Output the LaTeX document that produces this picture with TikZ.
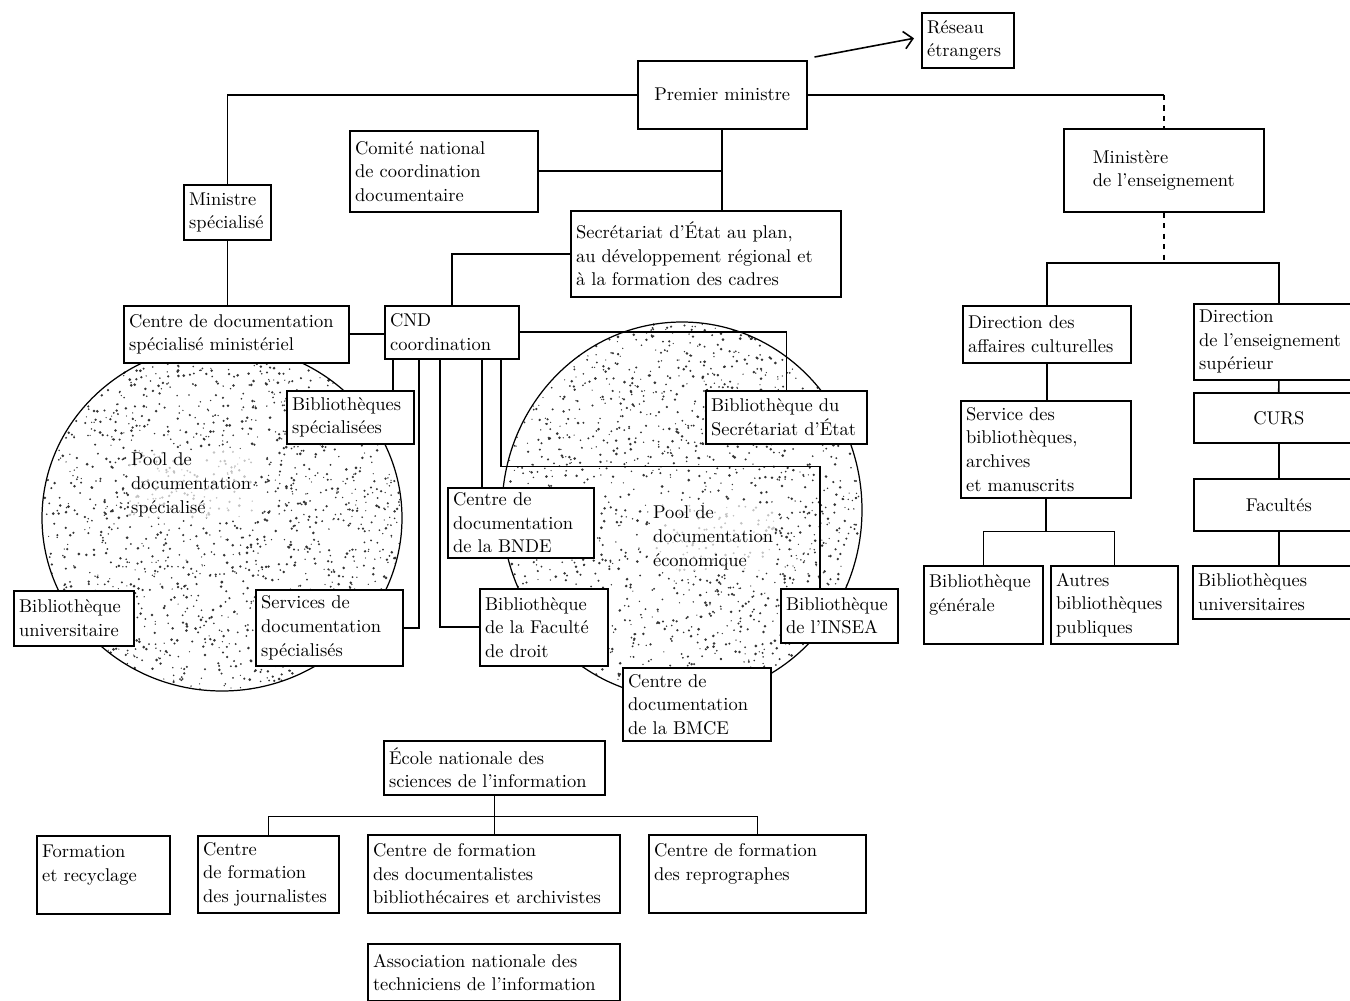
\documentclass[tikz,border=0pt]{standalone}
\usepackage{tikz}
\usetikzlibrary{arrows.meta,positioning,calc}

\begin{document}
\begin{tikzpicture}[x=0.02cm, y=-0.02cm,
    box/.style={draw, fill=white, line width=0.9pt, align=left, anchor=north west, inner xsep=3pt, inner ysep=2pt, font={\fontsize{10.5pt}{13.4pt}\selectfont}},
    cbox/.style={box, align=center},
    pool/.style={align=left, anchor=north west, inner sep=1pt, fill=white, fill opacity=0.7, text opacity=1, font={\fontsize{10.5pt}{13.4pt}\selectfont}},
    lnk/.style={line width=0.9pt},
    dlnk/.style={line width=0.9pt, dashed},
    arr/.style={-{Straight Barb[length=5pt]}, line width=0.9pt},
    blob/.style={line width=0.7pt}
]
\useasboundingbox (0,0) rectangle (1350,1001);
\clip (0,0) rectangle (1350,1001);

% the two pools, stippled
\pgfmathsetseed{42}
\foreach \cx/\cy/\rx/\ry in {222/518/180/173, 682/510/180/188}{
  \foreach \i in {1,...,1500}{
    \pgfmathsetmacro{\ang}{360*rnd}
    \pgfmathsetmacro{\rad}{sqrt(rnd)}
    \pgfmathsetmacro{\dot}{0.35+0.5*rnd}
    \fill[black!80] ({\cx+\rx*\rad*cos(\ang)}, {\cy+\ry*\rad*sin(\ang)}) circle (\dot pt);
  }
  \draw[blob] (\cx,\cy) ellipse ({\rx} and {\ry});
}
\node[pool] (PS) at (129,451) {Pool de\\documentation\\spécialisé};
\node[pool] (PE) at (651,504) {Pool de\\documentation\\économique};

% top
\node[box, text width=1.63cm, minimum height=1.10cm] (RE) at (921,12) {Réseau\\étrangers};
\node[cbox, minimum width=3.38cm, minimum height=1.36cm] (PM) at (637,60) {Premier ministre};
\node[box, text width=3.55cm, minimum height=1.62cm] (CNC) at (349,130) {Comité national\\de coordination\\documentaire};
\node[box, text width=1.53cm, minimum height=1.10cm] (MS) at (183,184) {Ministre\\spécialisé};
\node[box, text width=5.19cm, minimum height=1.72cm] (SE) at (570,210) {Secrétariat d'État au plan,\\au développement régional et\\à la formation des cadres};
\node[box, minimum width=4cm, minimum height=1.66cm] (ME) at (1063,128) {Ministère\\de l'enseignement};

% middle
\node[box, text width=4.29cm, minimum height=1.14cm] (CDS) at (123,305) {Centre de documentation\\spécialisé ministériel};
\node[box, text width=2.47cm, minimum height=1.06cm] (CND) at (384,305) {CND\\coordination};
\node[box, text width=2.33cm, minimum height=1.06cm] (BSP) at (286,390) {Bibliothèques\\spécialisées};
\node[box, text width=3.01cm, minimum height=1.06cm] (BSE) at (705,390) {Bibliothèque du\\Secrétariat d'État};
\node[box, text width=2.71cm, minimum height=1.40cm] (BNDE) at (447,487) {Centre de\\documentation\\de la BNDE};
\node[box, text width=2.19cm, minimum height=1.10cm] (BUN) at (13,590) {Bibliothèque\\universitaire};
\node[box, text width=2.73cm, minimum height=1.52cm] (SDS) at (255,589) {Services de\\documentation\\spécialisés};
\node[box, text width=2.35cm, minimum height=1.54cm] (BFD) at (479,588) {Bibliothèque\\de la Faculté\\de droit};
\node[box, text width=2.13cm, minimum height=1.08cm] (BINS) at (780,588) {Bibliothèque\\de l'INSEA};
\node[box, text width=2.75cm, minimum height=1.46cm] (BMCE) at (622,667) {Centre de\\documentation\\de la BMCE};

% right
\node[box, text width=3.15cm, minimum height=1.14cm] (DAC) at (962,305) {Direction des\\affaires culturelles};
\node[box, text width=3.19cm, minimum height=1.52cm] (DES) at (1193,303) {Direction\\de l'enseignement\\supérieur};
\node[box, text width=3.19cm, minimum height=1.94cm] (SBAM) at (960,400) {Service des\\bibliothèques,\\archives\\et manuscrits};
\node[cbox, minimum width=3.4cm, minimum height=1.00cm] (CURS) at (1193,392) {CURS};
\node[cbox, minimum width=3.4cm, minimum height=1.04cm] (FAC) at (1193,478) {Facultés};
\node[box, text width=2.17cm, minimum height=1.56cm] (BG) at (923,565) {Bibliothèque\\générale\\~};
\node[box, text width=2.33cm, minimum height=1.56cm] (ABP) at (1050,565) {Autres\\bibliothèques\\publiques};
\node[box, text width=3.19cm, minimum height=1.06cm] (BU) at (1192,565) {Bibliothèques\\universitaires};

% bottom
\node[box, text width=4.21cm, minimum height=1.08cm] (ENSI) at (383,740) {École nationale des\\sciences de l'information};
\node[box, text width=2.45cm, minimum height=1.56cm] (FR) at (36,835) {Formation\\et recyclage\\~};
\node[box, text width=2.61cm, minimum height=1.54cm] (CFJ) at (197,835) {Centre\\de formation\\des journalistes};
\node[box, text width=4.83cm, minimum height=1.56cm] (CFD) at (367,834) {Centre de formation\\des documentalistes\\bibliothécaires et archivistes};
\node[box, text width=4.13cm, minimum height=1.56cm] (CFR) at (648,834) {Centre de formation\\des reprographes\\~};
\node[box, text width=4.83cm, minimum height=1.14cm] (ANTI) at (367,943) {Association nationale des\\techniciens de l'information};

% links
\draw[lnk] (PM.west) -| (MS.north);
\draw[lnk] (PM.east) -- (PM.east -| ME.north);
\draw[dlnk] (PM.east -| ME.north) -- (ME.north);
\draw[arr] ($(PM.north east)+(7,-3)$) -- ($(RE.west)+(-7,-2)$);
\draw[lnk] (PM.south) -- (PM.south |- SE.north);
\draw[lnk] (CNC.east) -- (CNC.east -| PM.south);
\draw[lnk] (SE.west) -| (CND.north);
\draw[lnk] (MS.south) -- (MS.south |- CDS.north);
\draw[lnk] (CDS.east) -- (CDS.east -| CND.west);
\draw[lnk] (CND.east) -| (BSE.north);

\foreach \n/\dx in {a/9, b/35, c/56, d/98, e/117}
  \coordinate (cnd\n) at ($(CND.south west)+(\dx,0)$);
\draw[lnk] (cnda) -- (cnda |- BSP.north);
\draw[lnk] (cndb) |- (SDS.east);
\draw[lnk] (cndc) |- (BFD.west);
\draw[lnk] (cndd) -- (cndd |- BNDE.north);
\draw[lnk] (cnde) -- ++(0,107) -| ($(BINS.north west)+(40,0)$);

\draw[dlnk] (ME.south) -- ++(0,52);
\draw[lnk] (DAC.north) -- ++(0,-42) -| (DES.north);
\draw[lnk] (DAC.south) -- (DAC.south |- SBAM.north);
\draw[lnk] (SBAM.south) -- ++(0,33);
\draw[lnk] (BG.north) |- ($(SBAM.south)+(0,33)$) -| (ABP.north);
\draw[lnk] (DES.south) -- (CURS.north);
\draw[lnk] (CURS.south) -- (FAC.north);
\draw[lnk] (FAC.south) -- (FAC.south |- BU.north);

\draw[lnk] (ENSI.south) -- (ENSI.south |- CFD.north);
\draw[lnk] (CFJ.north) |- ($(ENSI.south)+(0,21)$) -| (CFR.north);
\end{tikzpicture}
\end{document}
